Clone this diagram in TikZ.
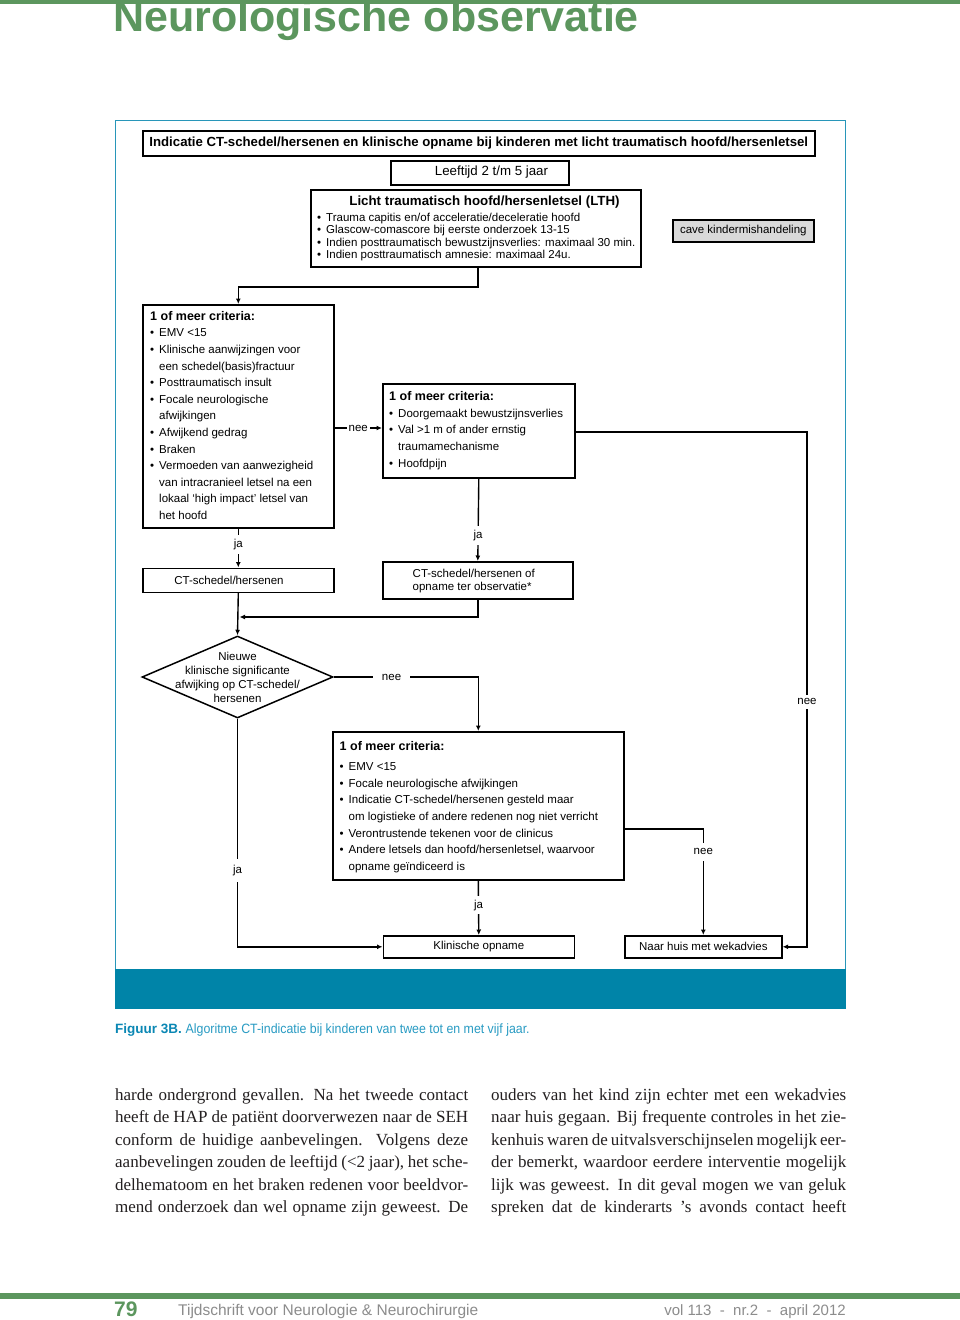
\documentclass[tikz,border=0pt]{standalone}
\usepackage{fontspec}
\usepackage{graphicx}
\setmainfont{Liberation Sans}
\newfontfamily\bodyserif{Liberation Serif}
\usetikzlibrary{arrows.meta,calc,shapes.geometric}
\definecolor{pgreen}{RGB}{92,150,94}
\definecolor{pblue}{RGB}{0,132,168}
\definecolor{frameblue}{RGB}{40,150,185}
\definecolor{capblue}{RGB}{10,135,180}
\definecolor{caplight}{RGB}{40,155,195}
\definecolor{footgrey}{RGB}{140,140,140}
\definecolor{cavegrey}{RGB}{217,217,217}
\definecolor{bodyblack}{RGB}{35,31,32}
\newcommand\bl{\makebox[9pt][l]{\textbullet}}
\newcommand\ind{\hspace*{9pt}}
\newcommand\fs[2]{\fontsize{#1}{#2}\selectfont}
\begin{document}
\begin{tikzpicture}[x=1pt,y=-1pt,
  box/.style={draw=black,line width=1.6pt,inner sep=0pt,anchor=north west},
  conn/.style={line width=1.4pt},
  arr/.style={conn,-{Latex[length=5.5pt,width=5pt]}},
  lbl/.style={fill=white,inner xsep=1pt,inner ysep=4pt,font=\fs{11.5}{13}},
  txt/.style={inner sep=0pt,anchor=north west,align=left,font=\fs{11.5}{16.6}},
  plain/.style={inner sep=0pt}
]
\useasboundingbox (0,0) rectangle (960,1320);
\fill[white] (0,0) rectangle (960,1320);

% header
\node[plain,anchor=base west,text=pgreen,font=\fs{43}{43}\bfseries] (head) at (113,31) {Neurologische observatie};
\fill[pgreen] (0,0) rectangle (960,4);

% frame
\draw[frameblue,line width=1.5pt] (115.5,120.5) rectangle (845.5,1008);
\fill[pblue] (115,969) rectangle (846,1009);

% boxes
\node[box,minimum width=672pt,minimum height=25pt,font=\fs{13.2}{15}\bfseries] (title) at (142,130) {Indicatie CT-schedel/hersenen en klinische opname bij kinderen met licht traumatisch hoofd/hersenletsel};

\node[box,minimum width=178pt,minimum height=24pt] (age) at (390,160) {};
\node[plain,font=\fs{13.3}{15}] (agetxt) at (491.5,172) {Leeftijd 2 t/m 5 jaar};

\node[box,minimum width=330pt,minimum height=77pt] (lth) at (310,189) {};
\node[plain,anchor=base,font=\fs{13.3}{15}\bfseries] (lthtitle) at (484.5,205.5) {Licht traumatisch hoofd/hersenletsel (LTH)};
\node[txt,font=\fs{11.5}{12.5}] (lthtxt) at (317,212) {\rule{0pt}{9pt}\bl Trauma capitis en/of acceleratie/deceleratie hoofd\\
\bl Glascow-comascore bij eerste onderzoek 13-15\\
\bl Indien posttraumatisch bewustzijnsverlies: maximaal 30 min.\\
\bl Indien posttraumatisch amnesie: maximaal 24u.};

\node[box,fill=cavegrey,minimum width=141pt,minimum height=22pt,font=\fs{11.5}{13}] (cave) at (672,219) {cave kindermishandeling};

\node[box,minimum width=191pt,minimum height=223pt] (c1) at (142,304) {};
\node[txt] (c1txt) at (150,310) {\rule{0pt}{10pt}{\fs{12.5}{14}\bfseries 1 of meer criteria:}\\
\bl EMV <15\\
\bl Klinische aanwijzingen voor\\
\ind een schedel(basis)fractuur\\
\bl Posttraumatisch insult\\
\bl Focale neurologische\\
\ind afwijkingen\\
\bl Afwijkend gedrag\\
\bl Braken\\
\bl Vermoeden van aanwezigheid\\
\ind van intracranieel letsel na een\\
\ind lokaal ‘high impact’ letsel van\\
\ind het hoofd};

\node[box,minimum width=192pt,minimum height=94pt] (m) at (382,383) {};
\node[txt] (mtxt) at (389,390.5) {\rule{0pt}{10pt}{\fs{12.5}{14}\bfseries 1 of meer criteria:}\\
\bl Doorgemaakt bewustzijnsverlies\\
\bl Val >1 m of ander ernstig\\
\ind traumamechanisme\\
\bl Hoofdpijn};

\node[box,minimum width=191pt,minimum height=24pt] (ct) at (142,567.5) {};
\node[plain,font=\fs{11.5}{13}] (cttxt) at (229,580) {CT-schedel/hersenen};

\node[box,minimum width=190pt,minimum height=37pt] (cto) at (382,561) {};
\node[txt,font=\fs{11.5}{13.5}] (ctotxt) at (412.5,568) {\rule{0pt}{9pt}CT-schedel/hersenen of\\opname ter observatie*};

\node[diamond,draw=black,line width=1.5pt,minimum width=191pt,minimum height=82pt,inner sep=0pt] (dia) at (237.5,677) {};
\node[plain,align=center,font=\fs{11.5}{14}] (diatxt) at (237.5,677) {Nieuwe\\klinische significante\\afwijking op CT-schedel/\\hersenen};

\node[box,minimum width=291pt,minimum height=148pt] (lo) at (332,731) {};
\node[txt] (lotxt) at (339.5,740.5) {\rule{0pt}{10pt}{\fs{12.5}{14}\bfseries 1 of meer criteria:}\\[3.4pt]
\bl EMV <15\\
\bl Focale neurologische afwijkingen\\
\bl Indicatie CT-schedel/hersenen gesteld maar\\
\ind om logistieke of andere redenen nog niet verricht\\
\bl Verontrustende tekenen voor de clinicus\\
\bl Andere letsels dan hoofd/hersenletsel, waarvoor\\
\ind opname geïndiceerd is};

\node[box,minimum width=191pt,minimum height=22pt,font=\fs{11.5}{13}] (kl) at (382.5,935) {Klinische opname};
\node[box,minimum width=157pt,minimum height=22pt,font=\fs{11.5}{13}] (naar) at (624,935) {Naar huis met wekadvies};

% connectors
\coordinate (j1) at (478,287);
\draw[arr] (lth.south -| j1) -- (j1) -| (c1.north);

\coordinate (yn) at (0,428);
\draw[arr] (c1.east |- yn) -- (m.west |- yn) node[lbl,midway,inner xsep=2pt,inner ysep=2pt] {nee};

\coordinate (rc) at (807,432);
\draw[arr] (m.east |- rc) -- (rc) |- (naar.east) node[lbl,pos=0.262] {nee};

\draw[arr] (c1.south) -- (ct.north) node[lbl,pos=0.4] {ja};
\draw[arr] (m.south) -- (cto.north) node[lbl,pos=0.69] {ja};

\draw[arr] (ct.south) -- (dia.north);
\coordinate (jn) at (239.5,617);
\draw[arr] (cto.south) |- (jn);

\draw[arr] (dia.east) -| (lo.north) node[lbl,pos=0.2,inner xsep=9pt] {nee};
\draw[arr] (dia.south) |- (kl.west) node[lbl,pos=0.333,inner ysep=6pt] {ja};
\draw[arr] (lo.south) -- (kl.north) node[lbl,pos=0.45] {ja};
\coordinate (yl) at (0,829);
\draw[arr] (lo.east |- yl) -| (naar.north) node[lbl,pos=0.608,inner ysep=6pt] {nee};

% caption
\node[plain,anchor=base west,font=\fs{13.5}{15},text=capblue] (cap) at (115,1033) {{\bfseries Figuur 3B.} \textcolor{caplight}{\scalebox{0.915}[1]{Algoritme CT-indicatie bij kinderen van twee tot en met vijf jaar.}}};

% body text
\node[plain,anchor=north west,align=left,text=bodyblack,font=\bodyserif\fs{17}{22.5}] (bodyL) at (115,1087) {\rule{0pt}{13pt}\makebox[353pt][s]{harde ondergrond gevallen. Na het tweede contact}\\
\makebox[353pt][s]{heeft de HAP de patiënt doorverwezen naar de SEH}\\
\makebox[353pt][s]{conform de huidige aanbevelingen. Volgens deze}\\
\makebox[353pt][s]{aanbevelingen zouden de leeftijd (<2 jaar), het sche-}\\
\makebox[353pt][s]{delhematoom en het braken redenen voor beeldvor-}\\
\makebox[353pt][s]{mend onderzoek dan wel opname zijn geweest. De}};
\node[plain,anchor=north west,align=left,text=bodyblack,font=\bodyserif\fs{17}{22.5}] (bodyR) at (491,1087) {\rule{0pt}{13pt}\makebox[355pt][s]{ouders van het kind zijn echter met een wekadvies}\\
\makebox[355pt][s]{naar huis gegaan. Bij frequente controles in het zie-}\\
\makebox[355pt][s]{kenhuis waren de uitvalsverschijnselen mogelijk eer-}\\
\makebox[355pt][s]{der bemerkt, waardoor eerdere interventie mogelijk}\\
\makebox[355pt][s]{lijk was geweest. In dit geval mogen we van geluk}\\
\makebox[355pt][s]{spreken dat de kinderarts ’s avonds contact heeft}};

% footer
\fill[pgreen] (0,1293) rectangle (960,1299);
\node[plain,anchor=base west,font=\fs{21}{21}\bfseries,text=pgreen] (pnum) at (114,1316) {79};
\node[plain,anchor=base west,font=\fs{15.5}{17},text=footgrey] (journal) at (178,1315) {Tijdschrift voor Neurologie \& Neurochirurgie};
\node[plain,anchor=base east,font=\fs{15}{17},text=footgrey] (vol) at (846,1315) {vol 113 \ - \ nr.2 \ - \ april 2012};
\end{tikzpicture}
\end{document}
